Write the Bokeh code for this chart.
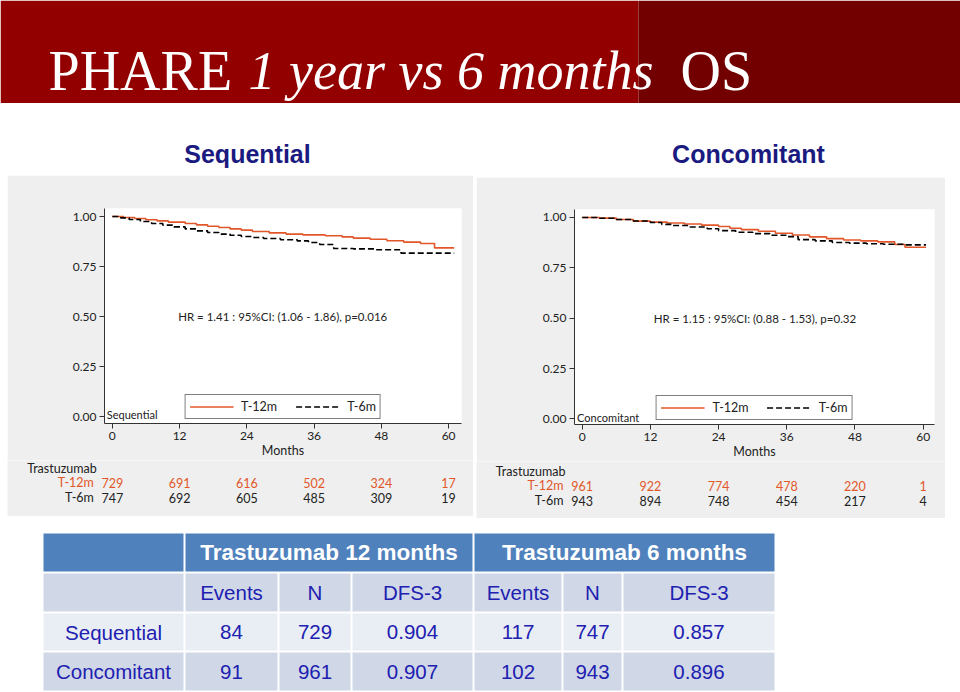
from bokeh.plotting import figure
from bokeh.models import Range1d, FixedTicker, NumeralTickFormatter, Spacer
from bokeh.layouts import column, row
from bokeh.core.properties import value
from bokeh.embed import file_html
from bokeh.resources import INLINE

# ---------------- data ----------------
title_parts = ["PHARE", "1 year vs 6 months", "OS"]
panel_titles = ["Sequential", "Concomitant"]
series_labels = ["T-12m", "T-6m"]
risk_header = "Trastuzumab"
x_ticks = [0, 12, 24, 36, 48, 60]
y_ticks = [0, 0.25, 0.5, 0.75, 1.0]

seq_t12_m = [0, 2, 4, 6, 8, 10, 13, 15, 17, 19, 21, 23, 25, 28, 31, 34, 38, 41, 43, 46, 49, 52, 55, 57.5, 61]
seq_t12_s = [1.0, 0.995, 0.99, 0.984, 0.978, 0.972, 0.965, 0.958, 0.951, 0.945, 0.938, 0.932, 0.925,
             0.918, 0.912, 0.908, 0.904, 0.898, 0.892, 0.886, 0.879, 0.872, 0.865, 0.843, 0.843]
seq_t6_m = [0, 1.5, 3, 5, 7, 9, 11, 13, 15, 17, 19, 21, 23, 25, 27, 30, 33, 35, 37, 39.5, 43, 47, 51.5, 61]
seq_t6_s = [1.0, 0.993, 0.985, 0.975, 0.965, 0.957, 0.948, 0.938, 0.928, 0.92, 0.912, 0.906, 0.9,
            0.895, 0.89, 0.884, 0.878, 0.87, 0.86, 0.84, 0.838, 0.834, 0.817, 0.817]
con_t12_m = [0, 3, 6, 9, 12, 15, 18, 21, 24, 26, 28, 31, 34, 37, 40, 43, 46, 49, 52, 55, 56.8, 60.5]
con_t12_s = [1.0, 0.997, 0.99, 0.982, 0.977, 0.973, 0.968, 0.962, 0.955, 0.947, 0.94, 0.932, 0.922,
             0.913, 0.904, 0.895, 0.888, 0.884, 0.879, 0.866, 0.852, 0.852]
con_t6_m = [0, 3, 6, 9, 12, 14, 16, 19, 22, 24, 27, 30, 33, 36, 38, 41, 44, 47, 50, 53, 57, 60.5]
con_t6_s = [1.0, 0.996, 0.99, 0.983, 0.975, 0.966, 0.96, 0.953, 0.944, 0.935, 0.927, 0.92, 0.912,
            0.905, 0.89, 0.884, 0.876, 0.873, 0.87, 0.867, 0.864, 0.864]

seq_risk_t12 = [729, 691, 616, 502, 324, 17]
seq_risk_t6 = [747, 692, 605, 485, 309, 19]
con_risk_t12 = [961, 922, 774, 478, 220, 1]
con_risk_t6 = [943, 894, 748, 454, 217, 4]

seq_hr = "HR = 1.41 : 95%CI: (1.06 - 1.86), p=0.016"
con_hr = "HR = 1.15 : 95%CI: (0.88 - 1.53), p=0.32"

tbl_groups = ["Trastuzumab 12 months", "Trastuzumab 6 months"]
tbl_subheads = ["Events", "N", "DFS-3", "Events", "N", "DFS-3"]
tbl_rows = ["Sequential", "Concomitant"]
events_12 = [84, 91]
n_12 = [729, 961]
dfs3_12 = ["0.904", "0.907"]
events_6 = [117, 102]
n_6 = [747, 943]
dfs3_6 = ["0.857", "0.896"]

# ---------------- style ----------------
ORANGE = "#e2572a"
PANEL = "#efefef"
NAVY = "#1a1a80"
TXT = "#222222"
TBL_TXT = "#2020b0"
FONT = "Lato"
W, H = 960, 692


def canvas(w, h, bg="white"):
    p = figure(width=w, height=h, x_range=Range1d(0, w), y_range=Range1d(h, 0),
               x_axis_type=None, y_axis_type=None, output_backend="svg",
               toolbar_location=None, min_border=0, outline_line_color=None,
               background_fill_color=bg, border_fill_color=bg, frame_align=False)
    p.grid.visible = False
    return p


# ---------------- title band ----------------
band = canvas(W, 103)
band.quad(left=[0, 638], right=[638, W], top=[0, 0], bottom=[103, 103],
          fill_color=["#930000", "#720000"], line_color=None)
title_x = [48, 248, 680]
title_style = ["normal", "italic", "normal"]
title_size = ["56px", "54px", "56px"]
for tx, tt, ts, tz in zip(title_x, title_parts, title_style, title_size):
    band.text(x=[tx], y=[70], text=[tt], text_font=value("Liberation Serif"),
              text_font_size=tz, text_font_style=ts, text_color="white",
              text_baseline="alphabetic", text_align="left")

# ---------------- headings ----------------
head = canvas(W, 72)
head.text(x=[247, 748], y=[50, 50], text=panel_titles, text_align="center",
          text_baseline="middle", text_font=value("Liberation Sans"),
          text_font_style="bold", text_font_size="25px", text_color=NAVY)


# ---------------- KM panels ----------------
def km_panel(label, t12_m, t12_s, t6_m, t6_s, hr, risk12, risk6,
             w, bl, fw, bt, bb, x0, ppm, y0, y1, risk_h, rows_y, lab_x, lab_y):
    fh = 215
    h = bt + fh + bb
    br = w - bl - fw
    x1 = x0 + fw / ppm
    p = figure(width=w, height=h, x_range=Range1d(x0, x1), y_range=Range1d(y0, y1),
               output_backend="svg", toolbar_location=None, frame_align=False,
               min_border_left=bl, min_border_right=br, min_border_top=bt,
               min_border_bottom=bb, background_fill_color="white",
               border_fill_color=PANEL, outline_line_color=None)
    p.grid.visible = False
    p.xaxis.ticker = FixedTicker(ticks=x_ticks)
    p.yaxis.ticker = FixedTicker(ticks=y_ticks)
    p.yaxis.formatter = NumeralTickFormatter(format="0.00")
    for ax in (p.xaxis, p.yaxis):
        ax.major_tick_out = 5
        ax.major_tick_in = 0
        ax.minor_tick_out = 0
        ax.minor_tick_in = 0
        ax.axis_line_color = "#333333"
        ax.major_tick_line_color = "#333333"
        ax.major_label_text_font = FONT
        ax.major_label_text_font_size = "12px"
        ax.major_label_text_color = TXT
        ax.major_label_standoff = 3
    p.xaxis.axis_label = "Months"
    p.xaxis.axis_label_text_font = FONT
    p.xaxis.axis_label_text_font_size = "12.5px"
    p.xaxis.axis_label_text_font_style = "normal"
    p.xaxis.axis_label_text_color = TXT
    p.xaxis.axis_label_standoff = 0

    p.step(t12_m, t12_s, mode="after", line_color=ORANGE, line_width=1.6,
           legend_label=series_labels[0])
    p.step(t6_m, t6_s, mode="after", line_color="black", line_width=1.6,
           line_dash="6 3", legend_label=series_labels[1])
    p.text(x=[30.4], y=[0.5], text=[hr], text_align="center", text_baseline="middle",
           text_font=value(FONT), text_font_size="11.5px", text_color=TXT)
    p.text(x=[lab_x], y=[lab_y], text=[label], text_align="left", text_baseline="middle",
           text_font=value(FONT), text_font_size="11px", text_color=TXT)

    lg = p.legend[0]
    lg.location = "bottom_center"
    lg.orientation = "horizontal"
    lg.margin = 4
    lg.padding = 4
    lg.spacing = 18
    lg.glyph_width = 44
    lg.glyph_height = 13
    lg.label_height = 13
    lg.label_standoff = 8
    lg.label_text_font = FONT
    lg.label_text_font_size = "12.5px"
    lg.label_text_color = TXT
    lg.border_line_color = "black"
    lg.border_line_width = 1
    lg.background_fill_color = "white"
    lg.background_fill_alpha = 1.0

    # number-at-risk table below, on the same month scale (extended over the panel)
    rs = x0 - bl / ppm
    re = x1 + br / ppm
    r = figure(width=w, height=risk_h, x_range=Range1d(rs, re), y_range=Range1d(risk_h, 0),
               x_axis_type=None, y_axis_type=None, output_backend="svg",
               toolbar_location=None, min_border=0, outline_line_color=None,
               background_fill_color=PANEL, border_fill_color=PANEL, frame_align=False)
    r.grid.visible = False
    r.text(x=[-15.2], y=[rows_y[0]], text=[risk_header], text_align="left",
           text_baseline="middle", text_font=value(FONT), text_font_size="12.5px",
           text_color=TXT)
    for yy, txt, col, vals in ((rows_y[1], series_labels[0], ORANGE, risk12),
                               (rows_y[2], series_labels[1], TXT, risk6)):
        r.text(x=[-3.3], y=[yy], text=[txt], text_align="right", text_baseline="middle",
               text_font=value(FONT), text_font_size="12.5px", text_color=col)
        r.text(x=x_ticks, y=[yy] * len(x_ticks), text=[str(v) for v in vals],
               text_align="center", text_baseline="middle", text_font=value(FONT),
               text_font_size="12.5px", text_color=col)
    return p, r


km_l, risk_l = km_panel("Sequential", seq_t12_m, seq_t12_s, seq_t6_m, seq_t6_s, seq_hr,
                        seq_risk_t12, seq_risk_t6, w=466, bl=97, fw=357, bt=33, bb=37,
                        x0=-1.4, ppm=5.604, y0=-0.035, y1=1.04, risk_h=56,
                        rows_y=[8, 22, 37], lab_x=-1.0, lab_y=0.01)
km_r, risk_r = km_panel("Concomitant", con_t12_m, con_t12_s, con_t6_m, con_t6_s, con_hr,
                        con_risk_t12, con_risk_t6, w=469, bl=98, fw=360, bt=32, bb=37,
                        x0=-1.355, ppm=5.683, y0=-0.0273, y1=1.0397, risk_h=57,
                        rows_y=[9.7, 24, 39], lab_x=-0.9, lab_y=0.009)

left_col = column(km_l, risk_l, Spacer(width=466, height=2), spacing=0)
right_col = column(Spacer(width=469, height=2), km_r, risk_r, spacing=0)
mid = row(Spacer(width=7, height=343), left_col, Spacer(width=3, height=343), right_col,
          Spacer(width=15, height=343), spacing=0)

# ---------------- summary table ----------------
tbl = canvas(W, 174)
col_w = [140, 92, 71, 120, 87, 58, 151]
gap = 2
lefts = []
xx = 43
for cw in col_w:
    lefts.append(xx)
    xx += cw + gap
rights = [l + cw for l, cw in zip(lefts, col_w)]
row_hs = [38, 38, 37, 38]
tops = []
yy = 15
for rh in row_hs:
    tops.append(yy)
    yy += rh + gap
bots = [t + rh for t, rh in zip(tops, row_hs)]
mids = [(t + b) / 2 for t, b in zip(tops, bots)]

HEAD = "#4f81bd"
ROW_A = "#d0d8e8"
ROW_B = "#e9edf4"
tbl.quad(left=[lefts[0], lefts[1], lefts[4]], right=[rights[0], rights[3], rights[6]],
         top=[tops[0]] * 3, bottom=[bots[0]] * 3, fill_color=HEAD, line_color=None)
row_fill = [ROW_A, ROW_B, ROW_A]
for ri in range(1, 4):
    tbl.quad(left=lefts, right=rights, top=[tops[ri]] * 7, bottom=[bots[ri]] * 7,
             fill_color=row_fill[ri - 1], line_color=None)

tbl.text(x=[(lefts[1] + rights[3]) / 2, (lefts[4] + rights[6]) / 2],
         y=[mids[0]] * 2, text=tbl_groups, text_align="center",
         text_baseline="middle", text_font=value("Liberation Sans"), text_font_style="bold",
         text_font_size="22.5px", text_color="white")
centers = [(l + r) / 2 for l, r in zip(lefts, rights)]
tbl.text(x=centers[1:], y=[mids[1]] * 6, text=tbl_subheads,
         text_align="center", text_baseline="middle", text_font=value("Liberation Sans"),
         text_font_size="20.5px", text_color=TBL_TXT)
for i in range(2):
    vals = [tbl_rows[i], str(events_12[i]), str(n_12[i]), dfs3_12[i],
            str(events_6[i]), str(n_6[i]), dfs3_6[i]]
    tbl.text(x=centers, y=[mids[i + 2]] * 7, text=vals,
             text_align="center", text_baseline="middle", text_font=value("Liberation Sans"),
             text_font_size="20.5px", text_color=TBL_TXT)

layout = column(band, head, mid, tbl, spacing=0)

open("out.html", "w").write(file_html(layout, INLINE))
